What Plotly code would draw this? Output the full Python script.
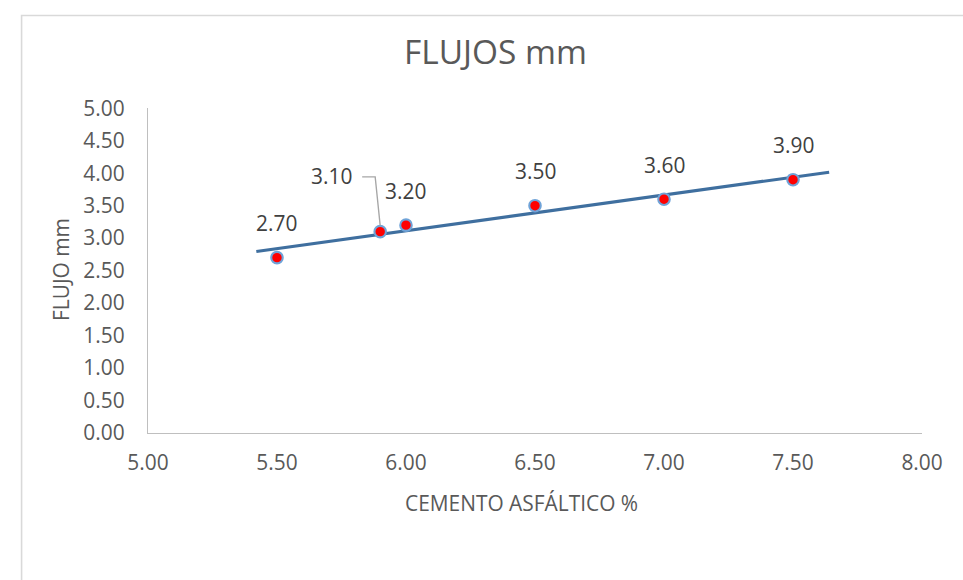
import numpy as np
import plotly.graph_objects as go

# Asphalt cement content (%) and measured flow (mm)
cemento = [5.5, 5.9, 6.0, 6.5, 7.0, 7.5]
flujo = [2.7, 3.1, 3.2, 3.5, 3.6, 3.9]
etiquetas = [f"{v:.2f}" for v in flujo]

x_ticks = [5.0, 5.5, 6.0, 6.5, 7.0, 7.5, 8.0]
y_ticks = [0.0, 0.5, 1.0, 1.5, 2.0, 2.5, 3.0, 3.5, 4.0, 4.5, 5.0]

# Linear trendline, extended slightly past the data on both sides
trend_from, trend_to = 5.42, 7.64

# Layout is designed on a 963x580 grid (GX, GY in grid pixels); the page is
# K times larger and the grid origin sits at (OX, OY) grid pixels.
BW, BH = 963, 580
K = 1.045
OX, OY = 20.7, 12.5
W, H = round(BW * K), round(BH * K)
FONT = "Open Sans"
TXT = "#595959"


def px(v):
    return v * K


def fx(gx):
    return (gx - OX) * K / W


def fy(gy):
    return 1 - (gy - OY) * K / H


slope, intercept = np.polyfit(cemento, flujo, 1)
xt = np.array([trend_from, trend_to])
yt = slope * xt + intercept

fig = go.Figure()

fig.add_trace(go.Scatter(
    x=xt, y=yt, mode="lines",
    line=dict(color="#3F6F9F", width=px(3)),
    hoverinfo="skip", showlegend=False,
))

fig.add_trace(go.Scatter(
    x=cemento, y=flujo, mode="markers",
    marker=dict(color="#FF0000", size=px(11), line=dict(color="#6FA3D8", width=px(2))),
    showlegend=False,
))

# Data labels above each point; the 3.10 label sits off to the left with a leader line
for xv, yv, lab in zip(cemento, flujo, etiquetas):
    if lab == "3.10":
        xs, ys = -47, 53
    else:
        xs, ys = 0, 33
    fig.add_annotation(
        x=xv, y=yv, xref="x", yref="y", text=lab, showarrow=False,
        xanchor="center", yanchor="middle",
        xshift=px(xs), yshift=px(ys), font=dict(family=FONT, size=px(20), color="#404040"),
    )

# Plot area placement
x0_dom, x1_dom = fx(147.5), fx(920.5)
y0_dom, y1_dom = fy(432), fy(106)

# Leader line for the displaced 3.10 label, in grid-pixel offsets from the point
px_per_x = (920.5 - 147.5) / (x_ticks[-1] - x_ticks[0])
px_per_y = (432 - 106) / (y_ticks[-1] - y_ticks[0])
i = etiquetas.index("3.10")
lx, ly = cemento[i], flujo[i]
pts = [(-18, 55), (-5, 55), (0, 6)]
path = "M " + " L ".join(f"{lx + dx / px_per_x},{ly + dy / px_per_y}" for dx, dy in pts)
fig.add_shape(type="path", path=path, xref="x", yref="y",
              line=dict(color="#A6A6A6", width=px(1.3)))

# Chart frame: left and top edges
bx, by = 0.6 / W, 1 - 0.6 / H
fig.add_shape(type="path", xref="paper", yref="paper",
              path=f"M {bx},0 L {bx},{by} L 1,{by}",
              line=dict(color="#D9D9D9", width=px(1.5)))


def page_text(text, cx, cy, size, angle=0):
    fig.add_annotation(text=text, x=fx(cx), y=fy(cy), xref="paper", yref="paper",
                       xanchor="center", yanchor="middle", showarrow=False, textangle=angle,
                       font=dict(family=FONT, size=px(size), color=TXT))


# Title and axis titles
page_text("FLUJOS mm", 495, 49, 32)
page_text("CEMENTO ASFÁLTICO %", 521, 502, 20)
page_text("FLUJO mm", 60, 268, 20, angle=-90)

fig.update_layout(
    width=W, height=H,
    margin=dict(l=0, r=0, t=0, b=0),
    paper_bgcolor="white", plot_bgcolor="white",
    xaxis=dict(domain=[x0_dom, x1_dom], range=[x_ticks[0], x_ticks[-1]],
               tickvals=x_ticks, ticktext=[f"{v:.2f}" for v in x_ticks],
               showgrid=False, zeroline=False, showline=True, linecolor="#BFBFBF", linewidth=px(1.3),
               ticks="", ticklabelstandoff=round(px(11)),
               tickfont=dict(family=FONT, size=px(20), color=TXT)),
    yaxis=dict(domain=[y0_dom, y1_dom], range=[y_ticks[0], y_ticks[-1]],
               tickvals=y_ticks, ticktext=[f"{v:.2f}" for v in y_ticks],
               showgrid=False, zeroline=False, showline=True, linecolor="#BFBFBF", linewidth=px(1.3),
               ticks="", ticklabelstandoff=round(px(17)),
               tickfont=dict(family=FONT, size=px(20), color=TXT)),
)

fig.write_html("out.html")
